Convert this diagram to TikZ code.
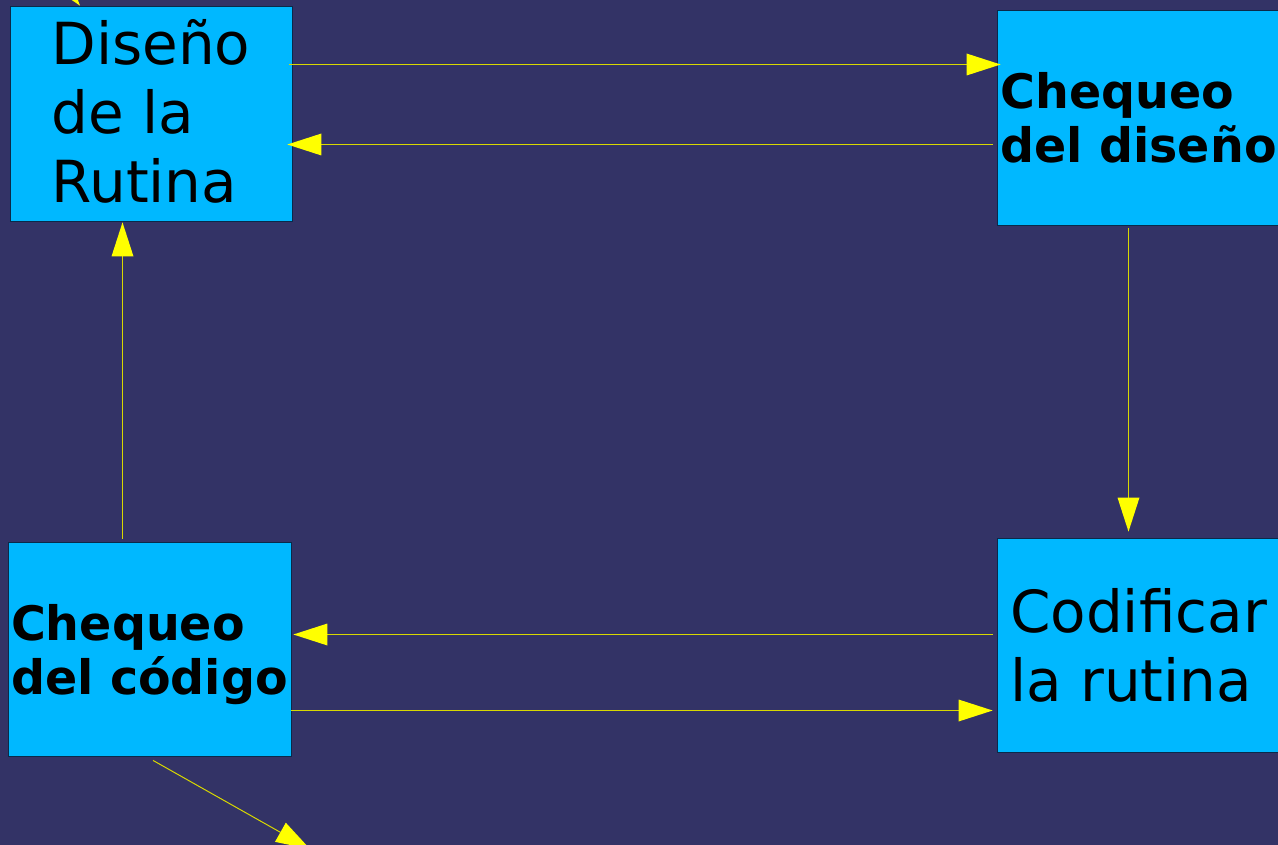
\documentclass[tikz,border=0pt]{standalone}
\usepackage{fontspec}
\setmainfont{DejaVu Sans}
\usetikzlibrary{arrows.meta}
\definecolor{bgc}{HTML}{333366}
\definecolor{boxc}{HTML}{00B8FF}
\definecolor{edgec}{HTML}{0A2A4A}
\definecolor{arrc}{HTML}{FFFF00}
\definecolor{linec}{HTML}{D8D800}
\tikzset{
  box/.style={draw=edgec, line width=0.8pt, fill=boxc, align=left, inner sep=0pt, text depth=0pt, text=black},
  bigtxt/.style={font=\fontsize{58}{69}\selectfont},
  boldtxt/.style={font=\fontsize{47.5}{54}\selectfont\bfseries},
  conn/.style={draw=linec, line width=1pt, -{Triangle[length=34pt, width=22pt, fill=arrc, line width=0pt]}}
}
\begin{document}
\begin{tikzpicture}[x=1pt, y=-1pt]
\useasboundingbox (0,0) rectangle (1278,845);
\clip (0,0) rectangle (1278,845);
\fill[bgc] (0,0) rectangle (1278,845);

\node[box, bigtxt, text depth=6pt, minimum width=282pt, minimum height=215pt] (A) at (151,113.5) {Diseño\\de la\\Rutina};
\node[box, boldtxt, minimum width=283pt, minimum height=215pt] (B) at (1138.5,117.5) {Chequeo\\del diseño};
\node[box, boldtxt, minimum width=283pt, minimum height=214pt] (C) at (149.5,649) {Chequeo\\del código};
\node[box, bigtxt, minimum width=283pt, minimum height=214pt] (D) at (1138.5,645) {Codificar\\la rutina};

\coordinate (in0) at (-44,-152);
\coordinate (out0) at (310,849);

\draw[conn] ([xshift=-3pt, yshift=49pt]A.east) -- ([xshift=4pt, yshift=53pt]B.west);
\draw[conn] ([xshift=-4pt, yshift=-27pt]B.west) -- ([xshift=-5pt, yshift=-31pt]A.east);
\draw[conn] ([xshift=-10pt, yshift=-3pt]B.south) -- ([xshift=-10pt, yshift=6pt]D.north);
\draw[conn] ([xshift=-4pt, yshift=10.5pt]D.west) -- ([xshift=2pt, yshift=14.5pt]C.east);
\draw[conn] ([yshift=-61.5pt]C.east) -- ([xshift=-4pt, yshift=-65.5pt]D.west);
\draw[conn] ([xshift=-27pt, yshift=3pt]C.north) -- ([xshift=-28.5pt, yshift=-1pt]A.south);
\draw[conn] ([xshift=3.5pt, yshift=-4pt]C.south) -- (out0);
\draw[conn] (in0) -- ([xshift=-71pt]A.north);
\end{tikzpicture}
\end{document}
